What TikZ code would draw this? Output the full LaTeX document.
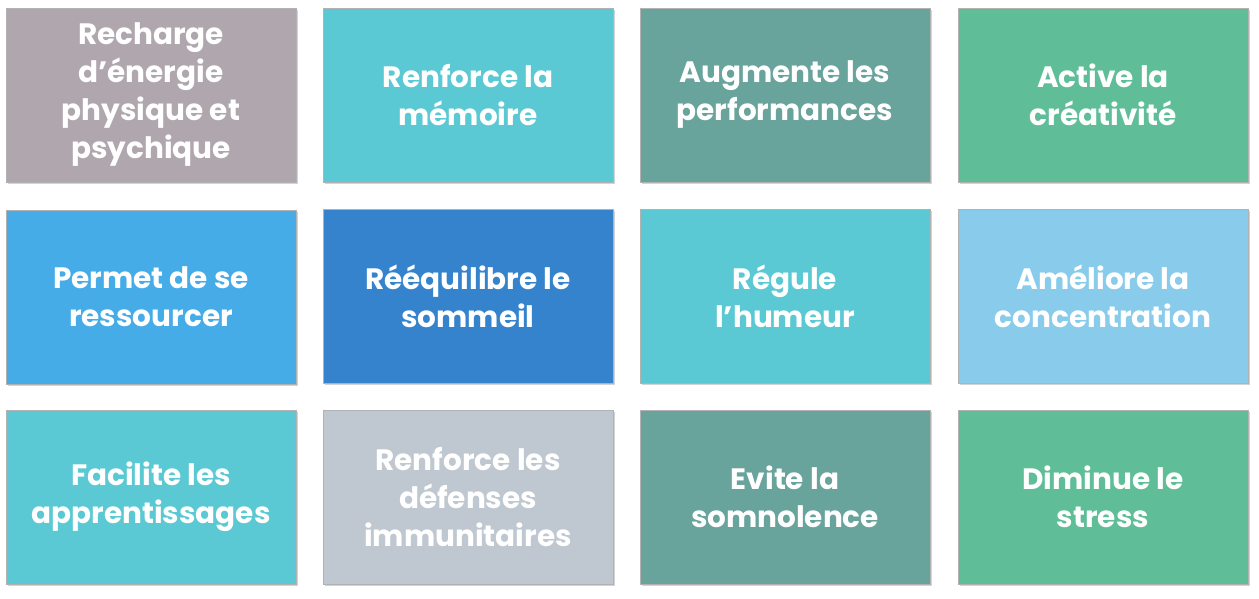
\documentclass[tikz,border=0pt]{standalone}
\usepackage{fontspec}
\setmainfont{Poppins}[BoldFont=* Bold]
\usetikzlibrary{shadows}
\definecolor{cA}{HTML}{B0A7AE}
\definecolor{cB}{HTML}{5BC9D3}
\definecolor{cC}{HTML}{68A39C}
\definecolor{cD}{HTML}{5FBE98}
\definecolor{cE}{HTML}{45ACE8}
\definecolor{cF}{HTML}{3583CC}
\definecolor{cG}{HTML}{88CBEB}
\definecolor{cH}{HTML}{BFC8D0}
\tikzset{
  tile/.style={minimum width=290pt,minimum height=174pt,inner sep=4pt,
    align=center,text=white,font=\fontsize{29.5}{38}\selectfont\bfseries,
    draw=white!70!black,line width=0.6pt,
    drop shadow={shadow xshift=2pt,shadow yshift=-2pt,opacity=0.35}}
}
\begin{document}
\begin{tikzpicture}[x=1pt,y=-1pt]
\useasboundingbox (0,0) rectangle (1259,599);
\node[tile,fill=cA] (a1) at (151,95) {Recharge\\d’énergie\\physique et\\psychique};
\node[tile,fill=cB] (a2) at (468,95) {Renforce la\\mémoire};
\node[tile,fill=cC] (a3) at (785,95) {Augmente les\\performances};
\node[tile,fill=cD] (a4) at (1103,95) {Active la\\créativité};
\node[tile,fill=cE] (b1) at (151,297) {Permet de se\\ressourcer};
\node[tile,fill=cF] (b2) at (468,296) {Rééquilibre le\\sommeil};
\node[tile,fill=cB] (b3) at (785,296) {Régule\\l\char39humeur};
\node[tile,fill=cG] (b4) at (1103,296) {Améliore la\\concentration};
\node[tile,fill=cB] (c1) at (151,497) {Facilite les\\apprentissages};
\node[tile,fill=cH] (c2) at (468,497) {Renforce les\\défenses\\immunitaires};
\node[tile,fill=cC] (c3) at (785,497) {Evite la\\somnolence};
\node[tile,fill=cD] (c4) at (1103,497) {Diminue le\\stress};
\end{tikzpicture}
\end{document}
